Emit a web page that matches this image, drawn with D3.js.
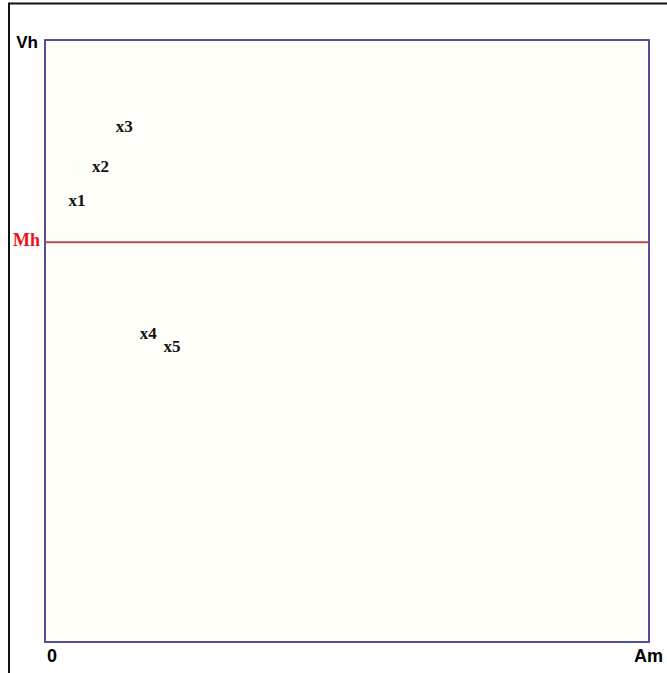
<!DOCTYPE html>
<html>
<head>
<meta charset="utf-8">
<script src="https://cdn.jsdelivr.net/npm/d3@7"></script>
<style>
  body { margin: 0; background: #fff; }
</style>
</head>
<body>
<div id="chart"></div>
<script>
// point labels and their positions (percent of the axis range)
var names = ["x1", "x2", "x3", "x4", "x5"];
var amValues = [3.9, 7.8, 11.7, 15.7, 19.6];
var vhValues = [72.5, 78.0, 84.7, 50.3, 48.2];
// horizontal reference line
var mhValue = 66.4;
// axis end labels
var xLabels = ["0", "Am"];
var yLabel = "Vh";
var lineLabel = "Mh";

var W = 667, H = 673;
var margin = {top: 40, right: 18, bottom: 31, left: 45},
    width = W - margin.left - margin.right,
    height = H - margin.top - margin.bottom;

var svg = d3.select("#chart")
  .append("svg")
    .attr("width", W)
    .attr("height", H);

// outer frame (cut off at right and bottom)
svg.append("path")
  .attr("d", "M9,673 V3.5 H667")
  .attr("fill", "none")
  .attr("stroke", "#111")
  .attr("stroke-width", 2);

var g = svg.append("g")
  .attr("transform", "translate(" + margin.left + "," + margin.top + ")");

var x = d3.scaleLinear().domain([0, 100]).range([0, width]);
var y = d3.scaleLinear().domain([0, 100]).range([height, 0]);

// plot area
g.append("rect")
  .attr("x", x(0))
  .attr("y", y(100))
  .attr("width", x(100) - x(0))
  .attr("height", y(0) - y(100))
  .attr("fill", "#fffffa")
  .attr("stroke", "#423c8c")
  .attr("stroke-width", 1.8);

// Mh line
g.append("line")
  .attr("x1", x(0))
  .attr("x2", x(100))
  .attr("y1", y(mhValue))
  .attr("y2", y(mhValue))
  .attr("stroke", "#b8484e")
  .attr("stroke-width", 2);

g.append("text")
  .attr("x", x(0) - 5)
  .attr("y", y(mhValue) + 4)
  .attr("text-anchor", "end")
  .attr("fill", "#e8141a")
  .style("font-family", "Liberation Serif, serif")
  .style("font-weight", "bold")
  .style("font-size", "18px")
  .text(lineLabel);

// axis labels
g.append("text")
  .attr("x", x(0) - 7)
  .attr("y", y(100) + 8)
  .attr("text-anchor", "end")
  .style("font-family", "Liberation Sans, Arial, sans-serif")
  .style("font-weight", "bold")
  .style("font-size", "17px")
  .text(yLabel);

g.selectAll(".xlab")
  .data(xLabels)
  .enter().append("text")
    .attr("class", "xlab")
    .attr("x", function(d, i) { return i === 0 ? x(0) + 2 : x(100) + 14; })
    .attr("y", y(0) + 20)
    .attr("text-anchor", function(d, i) { return i === 0 ? "start" : "end"; })
    .style("font-family", "Liberation Sans, Arial, sans-serif")
    .style("font-weight", "bold")
    .style("font-size", "18px")
    .text(function(d) { return d; });

// point labels
g.selectAll(".pt")
  .data(names)
  .enter().append("text")
    .attr("class", "pt")
    .attr("x", function(d, i) { return x(amValues[i]); })
    .attr("y", function(d, i) { return y(vhValues[i]); })
    .style("font-family", "Liberation Serif, serif")
    .style("font-weight", "bold")
    .style("font-size", "17px")
    .attr("fill", "#111")
    .text(function(d) { return d; });
</script>
</body>
</html>
